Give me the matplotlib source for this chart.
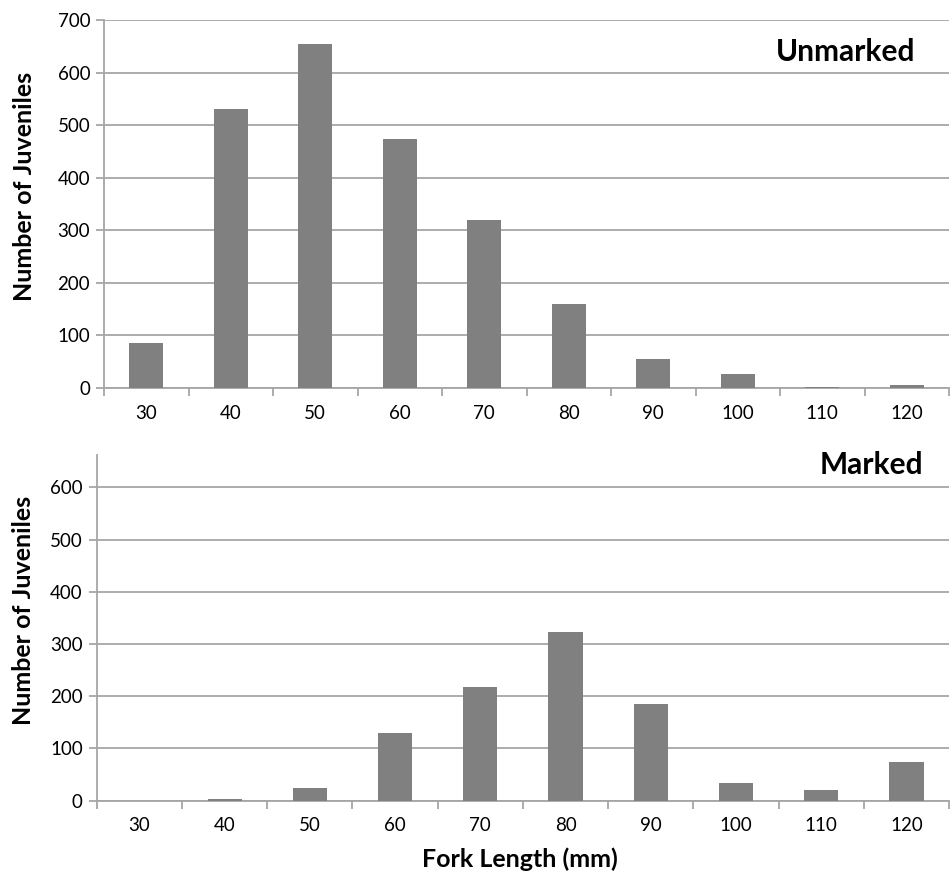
import matplotlib
matplotlib.use("Agg")
import matplotlib.pyplot as plt
import numpy as np

plt.rcParams['font.family'] = ['Lato', 'DejaVu Sans']

# tamanhos (mm) e contagens
lengths = ['30', '40', '50', '60', '70', '80', '90', '100', '110', '120']
unmarked = [85, 531, 655, 474, 319, 159, 55, 27, 2, 5]
marked = [0, 3, 25, 130, 218, 323, 185, 34, 20, 74]

bar_color = '#808080'
grid_color = '#a6a6a6'

fig = plt.figure(figsize=(9.51, 8.71), dpi=100)
ax1 = fig.add_axes([0.1094, 0.5545, 0.8886, 0.4225])
ax2 = fig.add_axes([0.1017, 0.0807, 0.8963, 0.3969])


def style(ax, values, ymax, yticks):
    x = np.arange(len(values))
    ax.bar(x, values, width=0.4, color=bar_color, zorder=3)
    ax.set_xlim(-0.5, len(values) - 0.5)
    ax.set_ylim(0, ymax)
    ax.set_yticks(yticks)
    ax.set_xticks(x)
    ax.set_xticklabels(lengths, fontsize=13.5)
    ax.set_xticks(np.arange(-0.5, len(values)), minor=True)
    ax.tick_params(axis='x', which='major', length=0, pad=12)
    ax.tick_params(axis='x', which='minor', length=6, width=1.3, color=grid_color)
    ax.tick_params(axis='y', length=6, width=1.3, color=grid_color, labelsize=13.5, pad=4)
    ax.grid(axis='y', color=grid_color, linewidth=1.3, zorder=0)
    for s in ['top', 'right']:
        ax.spines[s].set_visible(False)
    for s in ['left', 'bottom']:
        ax.spines[s].set_color(grid_color)
        ax.spines[s].set_linewidth(1.3)
    ax.set_ylabel('Number of Juveniles', fontsize=18, fontweight='bold')


style(ax1, unmarked, 700, range(0, 701, 100))
ax1.text(0.878, 639, 'Unmarked', transform=ax1.get_yaxis_transform(),
         ha='center', va='center', fontsize=21.5, fontweight='bold')
ax1.yaxis.set_label_coords(-0.081, 0.549)

style(ax2, marked, 662, range(0, 601, 100))
ax2.text(0.909, 643, 'Marked', transform=ax2.get_yaxis_transform(),
         ha='center', va='center', fontsize=21.5, fontweight='bold')
ax2.yaxis.set_label_coords(-0.072, 0.549)
ax2.set_xlabel('Fork Length (mm)', fontsize=18, fontweight='bold')
ax2.xaxis.set_label_coords(0.496, -0.135)

plt.savefig('out.png', dpi=100)
